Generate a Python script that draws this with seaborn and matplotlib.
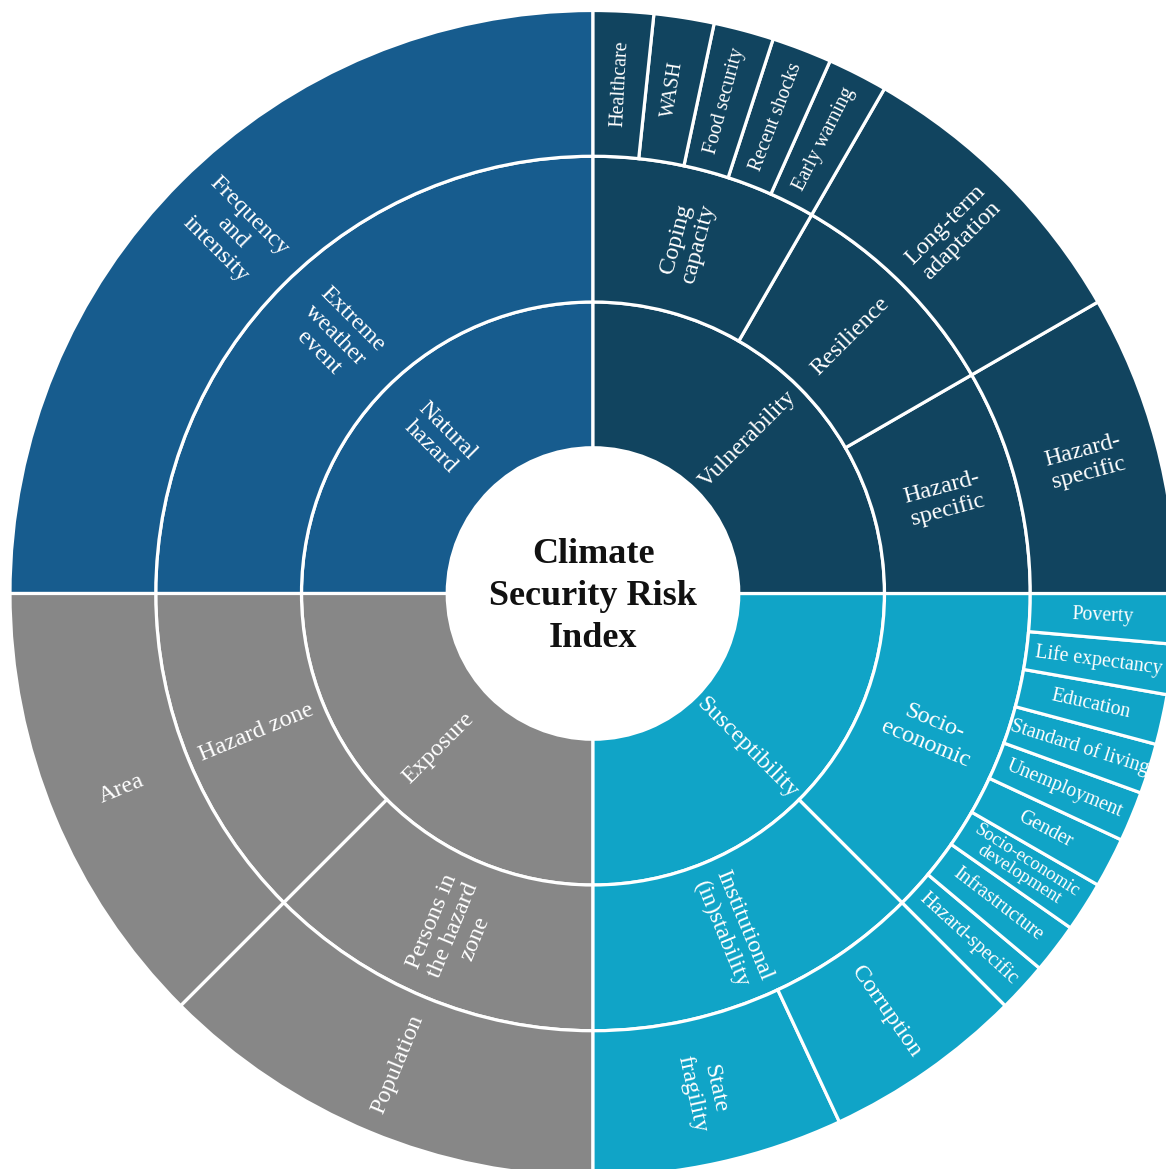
import numpy as np
import matplotlib.pyplot as plt
import seaborn as sns

# inner ring: dimensions, counterclockwise from 12 o'clock
dims = ["Natural\nhazard", "Exposure", "Susceptibility", "Vulnerability"]
dim_colors = ["#175C8E", "#878787", "#10A4C7", "#11445F"]

# middle ring: components (index of parent dimension)
comps = ["Extreme\nweather\nevent", "Hazard zone", "Persons in\nthe hazard\nzone",
         "Institutional\n(in)stability", "Socio-\neconomic",
         "Hazard-\nspecific", "Resilience", "Coping\ncapacity"]
comp_dim = [0, 1, 1, 2, 2, 3, 3, 3]

# outer ring: indicators, angular share in degrees (index of parent component)
inds = ["Frequency\nand\nintensity", "Area", "Population",
        "State\nfragility", "Corruption",
        "Hazard-specific", "Infrastructure", "Socio-economic\ndevelopment", "Gender",
        "Unemployment", "Standard of living", "Education", "Life expectancy", "Poverty",
        "Hazard-\nspecific", "Long-term\nadaptation",
        "Early warning", "Recent shocks", "Food security", "WASH", "Healthcare"]
ind_deg = [90, 45, 45, 25, 20, 5, 5, 5, 5, 5, 5, 5, 5, 5, 30, 30, 6, 6, 6, 6, 6]
ind_comp = [0, 1, 2, 3, 3, 4, 4, 4, 4, 4, 4, 4, 4, 4, 5, 6, 7, 7, 7, 7, 7]

ind_deg = np.array(ind_deg, dtype=float)
comp_deg = np.bincount(ind_comp, weights=ind_deg)
dim_deg = np.bincount(comp_dim, weights=comp_deg)
comp_colors = [dim_colors[d] for d in comp_dim]
ind_colors = [comp_colors[c] for c in ind_comp]

sns.set_theme(style="white")
plt.rcParams['font.family'] = ['Liberation Serif', 'DejaVu Serif']

fig = plt.figure(figsize=(11.66, 11.69), dpi=100)
ax = fig.add_axes([0, 0, 1, 1])

wp = dict(width=0.25, edgecolor="white", linewidth=2.3)
rings = [(dims, dim_deg, dim_colors, 0.5),
         (comps, comp_deg, comp_colors, 0.75),
         (inds, ind_deg, ind_colors, 1.0)]

for labels, sizes, colors, rad in rings:
    ax.pie(sizes, radius=rad, startangle=90, counterclock=True,
           colors=colors, wedgeprops=wp)
    mids = 90 + np.cumsum(sizes) - sizes / 2
    r = rad - 0.125
    for lab, th, sz in zip(labels, mids, sizes):
        t = (th + 180) % 360 - 180
        rot = t if abs(t) <= 90 else t - 180
        fs, ls = (17.5, 1.15) if sz >= 10 else (14.3, 1.0)
        if "\n" in lab and sz < 10:
            fs, ls = 13.3, 0.88
        ax.text(r * np.cos(np.radians(th)), r * np.sin(np.radians(th)), lab,
                rotation=rot, rotation_mode="anchor", ha="center", va="center",
                color="white", fontsize=fs, linespacing=ls)

ax.text(0, -0.006, "Climate\nSecurity Risk\nIndex", ha="center", va="center",
        fontsize=26, fontweight="bold", color="#111111", linespacing=1.36)

ax.set_xlim(-593 / 583, 573 / 583)
ax.set_ylim(-575.5 / 583, 593.5 / 583)
ax.set_aspect("equal", adjustable="datalim")
ax.axis("off")

fig.savefig("out.png", dpi=100)
